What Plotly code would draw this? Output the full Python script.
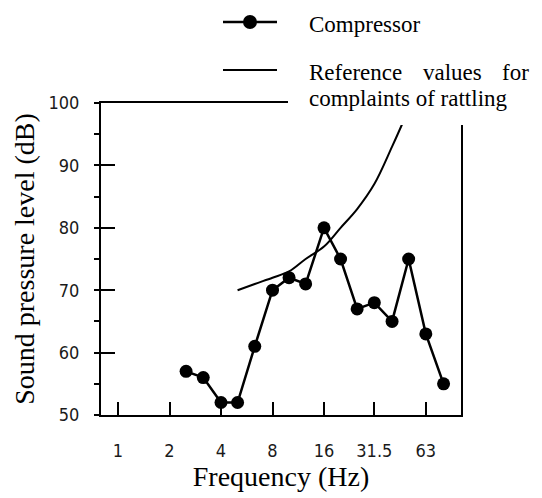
import plotly.graph_objects as go

# ---- data ----
freq_hz = [2.5, 3.15, 4, 5, 6.3, 8, 10, 12.5, 16, 20, 25, 31.5, 40, 50, 63, 80]
compressor_db = [57, 56, 52, 52, 61, 70, 72, 71, 80, 75, 67, 68, 65, 75, 63, 55]
ref_freq_hz = [5, 6.3, 8, 10, 12.5, 16, 20, 25, 31.5, 40, 50]
ref_db = [70, 71, 72, 73, 75, 77, 80, 83, 87, 93, 99]
x_tick_vals = [1, 2, 4, 8, 16, 31.5, 63]
x_tick_text = ["1", "2", "4", "8", "16", "31.5", "63"]
y_tick_vals = [50, 60, 70, 80, 90, 100]
y_minor_vals = [50, 55, 60, 65, 70, 75, 80, 85, 90, 95, 100]

W, H = 542, 498
L, R, T, B = 101, 81, 103, 83
pw, ph = W - L - R, H - T - B


def px(x):
    return (x - L) / pw


def py(y):
    return (H - B - y) / ph


serif = "Liberation Serif, Times New Roman, serif"
sans = "Liberation Sans Narrow, DejaVu Sans Condensed, Liberation Sans, Arial, sans-serif"

fig = go.Figure()
fig.add_trace(go.Scatter(
    x=ref_freq_hz, y=ref_db, mode="lines",
    line=dict(color="black", width=2, shape="spline", smoothing=1.0),
    showlegend=False, hoverinfo="skip"))
fig.add_trace(go.Scatter(
    x=freq_hz, y=compressor_db, mode="lines+markers",
    line=dict(color="black", width=2.5),
    marker=dict(color="black", size=13, symbol="circle"),
    showlegend=False))
fig.add_trace(go.Scatter(x=[], y=[], yaxis="y2", showlegend=False))

fig.update_layout(
    width=W, height=H,
    margin=dict(l=L, r=R, t=T, b=B),
    paper_bgcolor="white", plot_bgcolor="white",
    xaxis=dict(
        type="log", range=[-0.0994, 2.005],
        tickvals=x_tick_vals, ticktext=x_tick_text,
        ticks="inside", ticklen=13, tickwidth=1.5, tickcolor="black",
        showline=True, linewidth=2, linecolor="black", mirror=True,
        showgrid=False, zeroline=False,
        tickfont=dict(family=sans, size=18, color="#1a1a1a"),
        ticklabelstandoff=18,
        title=dict(text="Frequency (Hz)", font=dict(family=serif, size=28, color="black"), standoff=6),
    ),
    yaxis=dict(
        range=[50, 100],
        tickvals=y_tick_vals,
        ticks="inside", ticklen=14, tickwidth=1.5, tickcolor="black",
        showline=True, linewidth=2, linecolor="black", mirror=True,
        showgrid=False, zeroline=False,
        tickfont=dict(family=sans, size=18, color="#1a1a1a"),
        ticklabelstandoff=16,
        title=dict(text="Sound pressure level (dB)", font=dict(family=serif, size=28, color="black"), standoff=6),
    ),
    yaxis2=dict(
        overlaying="y", side="left", range=[50, 100],
        tickvals=y_minor_vals, ticks="outside", ticklen=6, tickwidth=1.5, tickcolor="black",
        showticklabels=False, showline=False, showgrid=False, zeroline=False,
    ),
    shapes=[
        dict(type="rect", xref="paper", yref="paper", x0=px(288), x1=px(560), y0=py(125), y1=py(-10),
             fillcolor="white", line=dict(width=0), layer="above"),
        dict(type="line", xref="paper", yref="paper", x0=px(223), x1=px(277), y0=py(22), y1=py(22),
             line=dict(color="black", width=2.5), layer="above"),
        dict(type="circle", xref="paper", yref="paper", x0=px(243), x1=px(257), y0=py(29), y1=py(15),
             fillcolor="black", line=dict(color="black", width=0), layer="above"),
        dict(type="line", xref="paper", yref="paper", x0=px(223), x1=px(277), y0=py(70), y1=py(70),
             line=dict(color="black", width=2), layer="above"),
    ],
    annotations=[
        dict(text="Compressor", xref="paper", yref="paper", x=px(307), y=py(24), xanchor="left", yanchor="middle",
             showarrow=False, font=dict(family=serif, size=23, color="black")),
        dict(text="Reference", xref="paper", yref="paper", x=px(307), y=py(73), xanchor="left", yanchor="middle",
             showarrow=False, font=dict(family=serif, size=23, color="black")),
        dict(text="values", xref="paper", yref="paper", x=px(452), y=py(73), xanchor="center", yanchor="middle",
             showarrow=False, font=dict(family=serif, size=23, color="black")),
        dict(text="for", xref="paper", yref="paper", x=px(531), y=py(73), xanchor="right", yanchor="middle",
             showarrow=False, font=dict(family=serif, size=23, color="black")),
        dict(text="complaints of rattling", xref="paper", yref="paper", x=px(307), y=py(98), xanchor="left",
             yanchor="middle", showarrow=False, font=dict(family=serif, size=23, color="black")),
    ],
)

fig.write_html("out.html", config={"displayModeBar": False},
               post_script="document.body.style.margin='0';document.body.style.padding='0';")
